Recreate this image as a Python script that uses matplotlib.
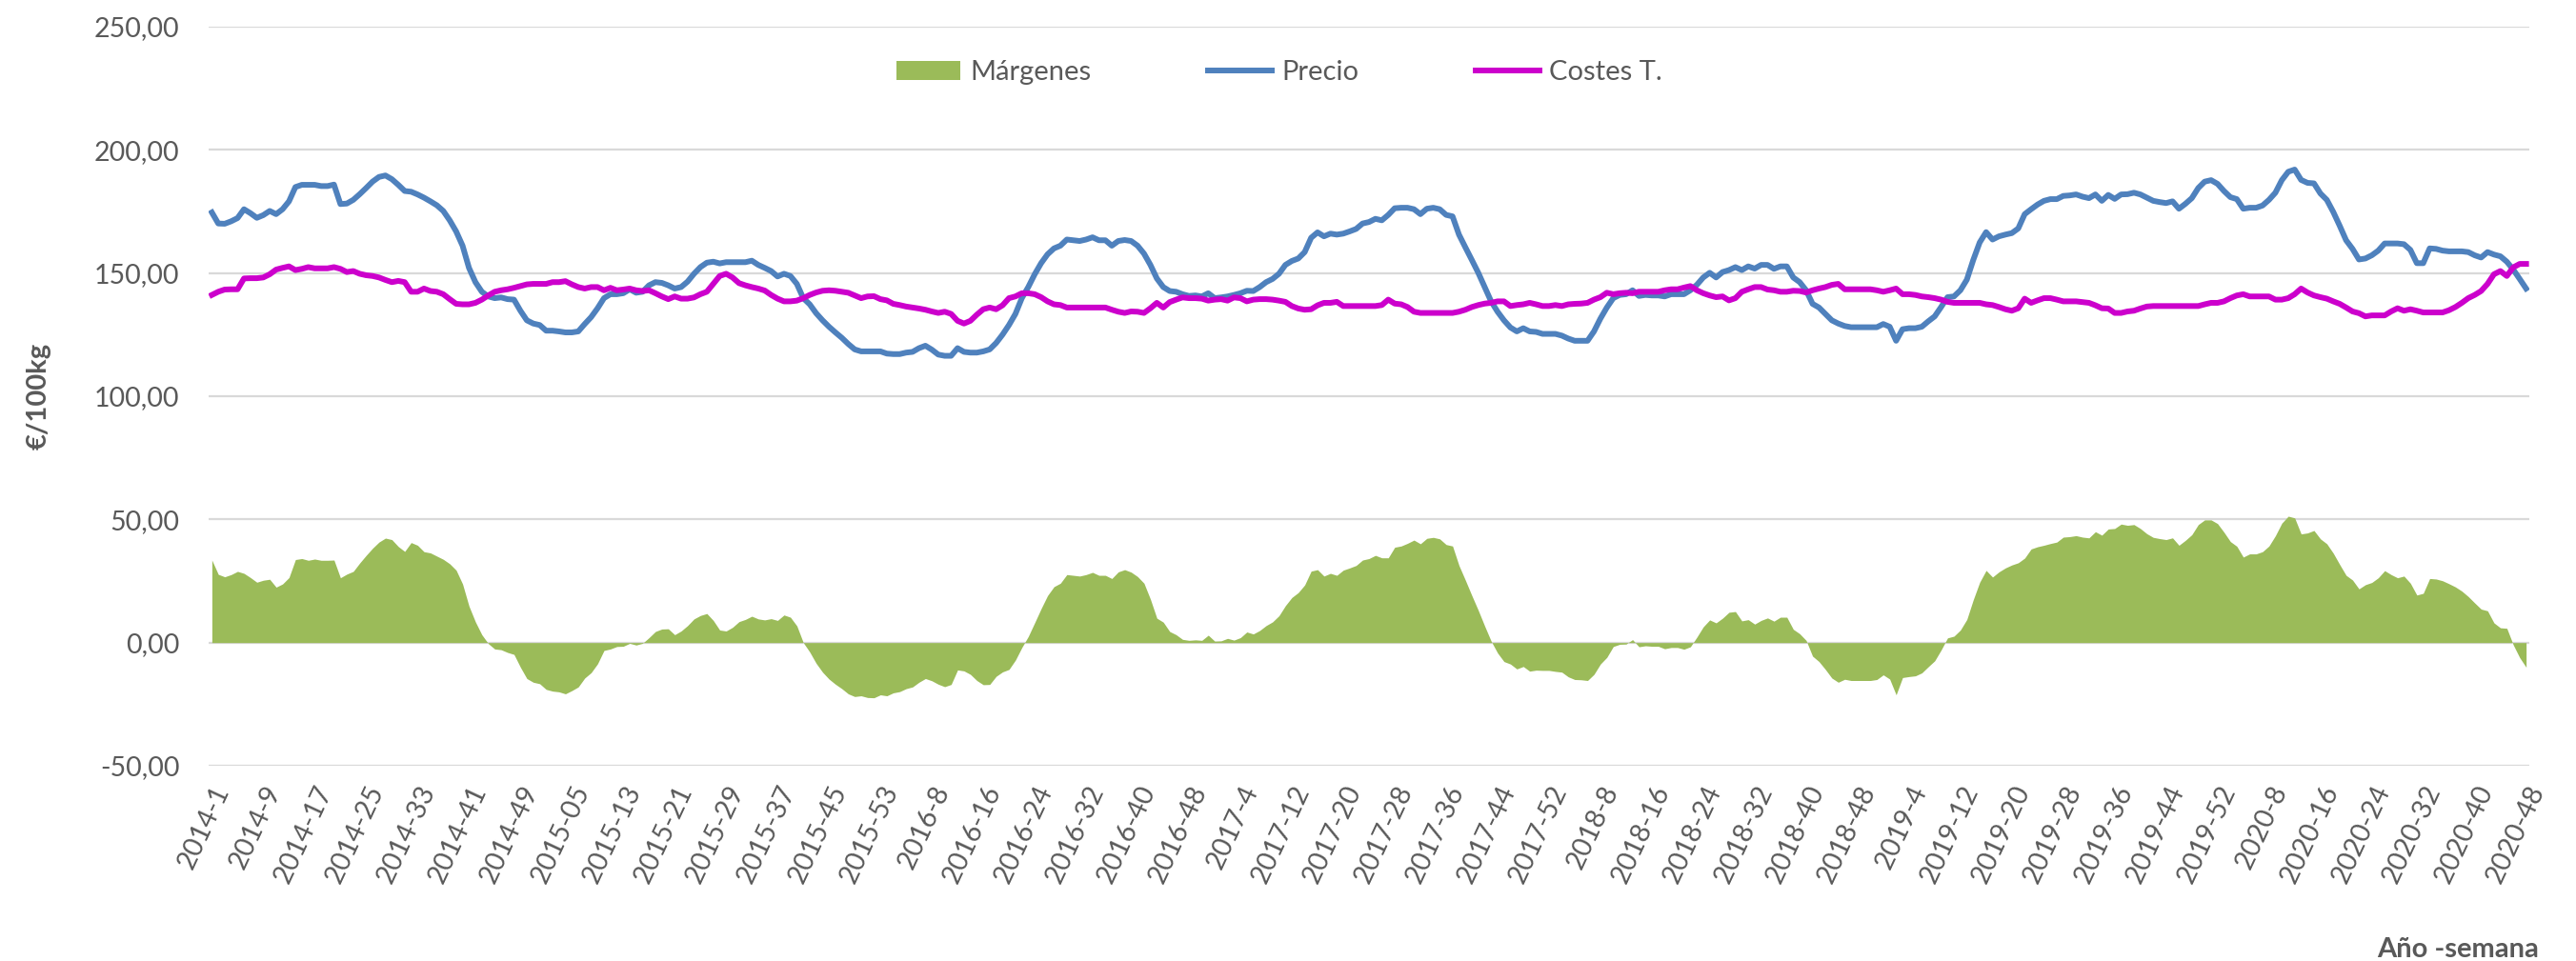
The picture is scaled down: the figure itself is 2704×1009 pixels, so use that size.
import numpy as np
import matplotlib.pyplot as plt
from matplotlib.ticker import FuncFormatter, MultipleLocator

# weekly values, 2014-1 .. 2020-48 (361 weeks)
precio = [
    174.6, 170.1, 170.0, 171.0, 172.3, 175.9, 174.3, 172.4, 173.5, 175.2, 173.9, 175.9, 179.1, 184.9, 185.8,
    185.8, 185.8, 185.3, 185.3, 185.9, 178.0, 178.2, 179.7, 182.0, 184.5, 187.1, 189.0, 189.6, 188.1, 185.8,
    183.3, 183.0, 181.9, 180.6, 179.1, 177.5, 175.2, 171.4, 166.9, 161.1, 152.1, 146.3, 142.4, 140.5, 139.8,
    140.1, 139.4, 139.2, 134.7, 130.8, 129.5, 128.9, 126.6, 126.6, 126.3, 125.9, 125.9, 126.3, 129.3, 132.1,
    135.7, 139.8, 141.4, 141.4, 141.8, 143.4, 142.0, 142.4, 145.0, 146.3, 146.0, 145.0, 143.7, 144.3, 146.5,
    149.7, 152.4, 154.2, 154.6, 153.9, 154.4, 154.4, 154.4, 154.4, 155.0, 153.3, 152.1, 150.8, 148.6, 149.7,
    148.8, 145.6, 139.8, 137.3, 133.7, 130.8, 128.2, 125.9, 123.7, 121.2, 119.0, 118.2, 118.2, 118.2, 118.2,
    117.3, 117.1, 117.1, 117.7, 118.0, 119.5, 120.5, 118.9, 116.9, 116.4, 116.4, 119.5, 118.0, 117.7, 117.7,
    118.2, 119.0, 121.6, 125.0, 128.9, 133.4, 139.8, 144.3, 149.5, 154.0, 157.6, 160.0, 161.1, 163.6, 163.3,
    163.0, 163.6, 164.5, 163.3, 163.3, 161.1, 163.0, 163.4, 163.0, 161.1, 157.9, 153.3, 147.8, 144.3, 142.7,
    142.4, 141.4, 140.7, 140.9, 140.5, 141.8, 139.8, 140.1, 140.5, 141.1, 141.8, 142.8, 142.7, 144.3, 146.3,
    147.6, 149.7, 153.3, 154.9, 155.9, 158.5, 164.3, 166.5, 164.9, 166.0, 165.6, 166.0, 166.9, 167.9, 170.1,
    170.7,
    172.0, 171.4, 173.6, 176.3, 176.5, 176.5, 175.9, 173.9, 176.1, 176.5, 175.9, 173.6, 173.0, 165.6, 160.4,
    155.3, 150.1, 144.3, 138.5, 134.3, 130.8, 127.9, 126.3, 127.6, 126.3, 126.1, 125.3, 125.3, 125.3, 124.6,
    123.4, 122.5, 122.5, 122.5, 126.3, 131.5, 136.0, 139.8, 141.1, 141.4, 143.0, 140.7, 141.1, 140.9, 140.9,
    140.5, 141.4, 141.4, 141.4, 143.0, 145.2, 148.2, 150.1, 148.2, 150.4, 151.2, 152.4, 151.2, 152.7, 151.8,
    153.3, 153.3, 151.7, 152.7, 152.7, 148.2, 146.3, 143.0, 137.5, 136.0, 133.4, 130.8, 129.5, 128.5, 128.0,
    128.0, 128.0, 128.0, 128.0, 129.3, 128.2, 122.5, 127.2, 127.6, 127.6, 128.2, 130.4, 132.4, 136.2, 140.2,
    140.5, 143.0, 147.3, 155.3, 162.4, 166.6, 163.6, 164.9, 165.6, 166.2, 168.1, 173.9, 175.9, 177.8, 179.3,
    180.0, 180.0, 181.3, 181.5, 181.9, 181.0, 180.4, 181.9, 179.3, 181.7, 180.1, 181.9, 182.0, 182.6, 181.9,
    180.6, 179.3, 178.8, 178.4, 179.1, 176.1, 178.1, 180.4, 184.5, 187.1, 187.7, 186.2, 183.3, 180.8, 180.0,
    176.1,
    176.5, 176.5, 177.4, 179.7, 182.6, 187.7, 191.1, 192.0, 187.8, 186.6, 186.4, 182.3, 179.7, 174.8, 169.2,
    163.3, 159.8, 155.5, 155.9, 157.2, 159.1, 162.0, 162.0, 162.0, 161.7, 159.4, 154.0, 154.0, 160.0, 159.8,
    159.1, 158.8, 158.8, 158.8, 158.5, 157.2, 156.3, 158.5, 157.5, 156.8, 154.6, 151.4, 147.6, 143.7,
]

costes = [
    141.1, 142.4, 143.3, 143.4, 143.4, 147.8, 147.9, 147.9, 148.2, 149.5, 151.4, 152.1, 152.7, 151.2, 151.7,
    152.4, 151.9, 151.9, 151.9, 152.4, 151.7, 150.4, 150.8, 149.7, 149.1, 148.8, 148.2, 147.2, 146.3, 146.8,
    146.3, 142.4, 142.4, 143.7, 142.7, 142.4, 141.4, 139.4, 137.5, 137.3, 137.3, 137.9, 139.2, 140.9, 142.4,
    143.0, 143.4, 144.0, 144.7, 145.4, 145.6, 145.6, 145.6, 146.3, 146.3, 146.7, 145.4, 144.3, 143.7, 144.3,
    144.3, 143.0, 144.0, 143.0, 143.3, 143.7, 143.0, 142.7, 143.0, 141.8, 140.5, 139.4, 140.5, 139.6, 139.6,
    140.1, 141.4, 142.4, 145.6, 148.8, 149.7, 148.2, 145.9, 145.0, 144.3, 143.7, 142.9, 141.1, 139.6, 138.5,
    138.5, 138.8, 139.8, 141.1, 142.1, 142.8, 143.0, 142.8, 142.4, 142.0, 140.9, 139.8, 140.5, 140.6, 139.4,
    138.9, 137.5, 137.0, 136.4, 136.0, 135.6, 135.1, 134.4, 133.8, 134.3, 133.4, 130.6, 129.5, 130.6, 133.1,
    135.3, 136.0, 135.3, 136.9, 139.8, 140.5, 141.8, 141.8, 141.4, 140.2, 138.5, 137.3, 137.0, 136.0, 136.0,
    136.0, 136.0, 136.0, 136.0, 136.0, 135.1, 134.3, 133.8, 134.4, 134.3, 133.8, 135.7, 137.9, 136.0, 138.2,
    139.2, 140.1, 139.8, 139.8, 139.6, 138.8, 139.2, 139.4, 138.8, 140.1, 139.8, 138.5, 139.2, 139.4, 139.4,
    139.2, 138.8, 138.3, 136.6, 135.6, 135.1, 135.3, 136.9, 137.9, 137.9, 138.3, 136.6, 136.6, 136.6, 136.6,
    136.6,
    136.6, 137.0, 139.2, 137.6, 137.3, 136.2, 134.3, 133.8, 133.8, 133.8, 133.8, 133.8, 133.8, 134.3, 135.1,
    136.2, 137.0, 137.6, 137.9, 138.5, 138.5, 136.6, 137.0, 137.3, 137.9, 137.3, 136.6, 136.6, 137.0, 136.6,
    137.3, 137.5, 137.6, 137.9, 139.2, 140.2, 142.0, 141.4, 141.8, 142.0, 141.8, 142.4, 142.4, 142.4, 142.4,
    143.0, 143.4, 143.4, 144.1, 144.7, 143.0, 141.8, 140.9, 140.2, 140.5, 138.9, 139.8, 142.4, 143.4, 144.3,
    144.3, 143.3, 143.0, 142.4, 142.4, 142.8, 142.7, 142.1, 143.0, 143.7, 144.3, 145.2, 145.6, 143.4, 143.4,
    143.4, 143.4, 143.4, 143.0, 142.4, 143.0, 143.7, 141.4, 141.4, 141.1, 140.5, 140.2, 139.8, 139.2, 138.3,
    137.9, 137.9, 137.9, 137.9, 137.9, 137.3, 137.0, 136.2, 135.3, 134.7, 135.7, 139.6, 137.9, 138.9, 139.8,
    139.8, 139.2, 138.5, 138.5, 138.5, 138.2, 137.9, 136.9, 135.7, 135.6, 133.8, 133.8, 134.4, 134.7, 135.6,
    136.4, 136.6, 136.6, 136.6, 136.6, 136.6, 136.6, 136.6, 136.6, 137.3, 137.9, 137.9, 138.5, 139.8, 140.9,
    141.4,
    140.5, 140.5, 140.5, 140.5, 139.2, 139.2, 139.8, 141.4, 143.7, 142.1, 140.9, 140.2, 139.6, 138.5, 137.5,
    136.0, 134.4, 133.7, 132.4, 132.8, 132.8, 132.8, 134.4, 135.7, 134.7, 135.3, 134.7, 134.0, 134.0, 134.0,
    134.0, 134.9, 136.2, 137.9, 139.8, 141.1, 142.7, 145.6, 149.5, 150.8, 148.8, 152.3, 153.7, 153.7,
]

etiquetas = [
    '2014-1', '2014-9', '2014-17', '2014-25', '2014-33', '2014-41', '2014-49',
    '2015-05', '2015-13', '2015-21', '2015-29', '2015-37', '2015-45', '2015-53',
    '2016-8', '2016-16', '2016-24', '2016-32', '2016-40', '2016-48',
    '2017-4', '2017-12', '2017-20', '2017-28', '2017-36', '2017-44', '2017-52',
    '2018-8', '2018-16', '2018-24', '2018-32', '2018-40', '2018-48',
    '2019-4', '2019-12', '2019-20', '2019-28', '2019-36', '2019-44', '2019-52',
    '2020-8', '2020-16', '2020-24', '2020-32', '2020-40', '2020-48',
]

precio = np.array(precio)
costes = np.array(costes)
# margin = price minus total costs
margenes = precio - costes
x = np.arange(len(precio))

plt.rcParams['font.family'] = ['Lato', 'DejaVu Sans']
gris = '#595959'

fig = plt.figure(figsize=(27.04, 10.09), dpi=100)
ax = fig.add_axes([219 / 2704, 1 - 804 / 1009, (2655 - 219) / 2704, (804 - 28) / 1009])

ax.fill_between(x, 0, margenes, color='#9BBB59', linewidth=0, label='Márgenes', zorder=2)
ax.plot(x, precio, color='#4F81BD', linewidth=4.3, label='Precio', zorder=3)
ax.plot(x, costes, color='#CC00CC', linewidth=4.3, label='Costes T.', zorder=4)

ax.set_xlim(-0.5, len(x) - 0.5)
ax.set_ylim(-50, 250)
ax.yaxis.set_major_locator(MultipleLocator(50))
ax.yaxis.set_major_formatter(FuncFormatter(lambda v, p: f'{v:.2f}'.replace('.', ',')))
ax.grid(axis='y', color='#D9D9D9', linewidth=1.6, zorder=0)
ax.set_axisbelow(True)
for s in ax.spines.values():
    s.set_visible(False)

ax.set_xticks(x[::8])
ax.set_xticklabels(etiquetas, rotation=65, ha='right', va='top', rotation_mode='anchor')
ax.tick_params(axis='both', length=0, labelsize=20.5, labelcolor=gris)
ax.tick_params(axis='x', pad=12)
ax.tick_params(axis='y', pad=22)

ax.set_ylabel('€/100kg', fontsize=21, fontweight='bold', color=gris, labelpad=20)
ax.yaxis.set_label_coords(-0.068, 0.5)
fig.text(2665 / 2704, 1 - 997 / 1009, 'Año -semana', fontsize=21, fontweight='bold',
         color=gris, ha='right', va='center')

h, l = ax.get_legend_handles_labels()
fig.legend(h, l, loc='center', bbox_to_anchor=(1343 / 2704, 1 - 76 / 1009), ncol=3,
           frameon=False, fontsize=21, labelcolor=gris, handlelength=2.3,
           handletextpad=0.35, columnspacing=4.2)

fig.savefig('out.png', dpi=100)
